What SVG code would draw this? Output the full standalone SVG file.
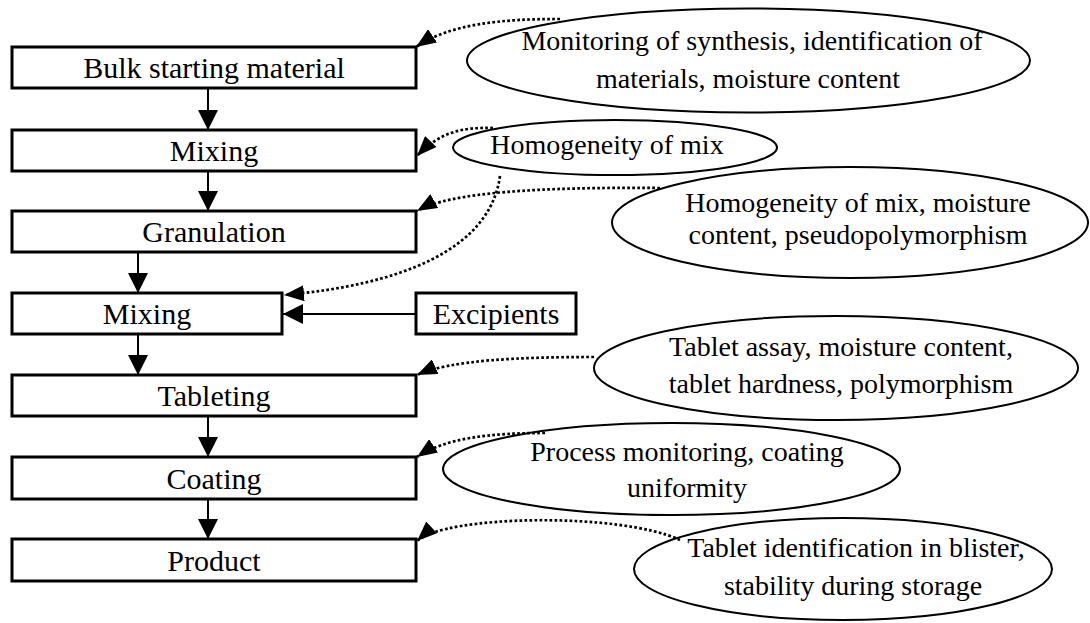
<svg xmlns="http://www.w3.org/2000/svg" width="1090" height="623" viewBox="0 0 1090 623">
<defs>
<style>
.box { fill: #fff; stroke: #000; stroke-width: 3; }
.ell { fill: #fff; stroke: #000; stroke-width: 2; }
.bt { font-family: "Liberation Serif", "Times New Roman", serif; font-size: 30px; text-anchor: middle; fill: #000; }
.et { font-family: "Liberation Serif", "Times New Roman", serif; font-size: 28px; text-anchor: middle; fill: #000; }
.flow { fill: none; stroke: #000; stroke-width: 2; marker-end: url(#arrowSolid); }
.dot { fill: none; stroke: #000; stroke-width: 2.7; stroke-dasharray: 2.7 2.3; marker-end: url(#arrowDot); }
</style>
<marker id="arrowSolid" markerUnits="userSpaceOnUse" markerWidth="20" markerHeight="20" viewBox="0 0 20 20" refX="20" refY="10" orient="auto"><path d="M0,0 L20,10 L0,20 Z" fill="#000"/></marker>
<marker id="arrowDot" markerUnits="userSpaceOnUse" markerWidth="20" markerHeight="16" viewBox="0 0 20 16" refX="20" refY="8" orient="auto"><path d="M0,0 L20,8 L0,16 Z" fill="#000"/></marker>
</defs>
<rect width="1090" height="623" fill="#fff"/>

<g id="bulk"><rect class="box" x="12" y="47" width="404" height="41"/><text class="bt" x="214" y="78">Bulk starting material</text></g>
<g id="mixing1"><rect class="box" x="12" y="130" width="404" height="41"/><text class="bt" x="214" y="161">Mixing</text></g>
<g id="granulation"><rect class="box" x="12" y="211" width="404" height="41"/><text class="bt" x="214" y="242">Granulation</text></g>
<g id="mixing2"><rect class="box" x="12" y="293" width="270" height="41"/><text class="bt" x="147" y="324">Mixing</text></g>
<g id="excipients"><rect class="box" x="416" y="293" width="160" height="41"/><text class="bt" x="496" y="324">Excipients</text></g>
<g id="tableting"><rect class="box" x="12" y="375" width="404" height="41"/><text class="bt" x="214" y="406">Tableting</text></g>
<g id="coating"><rect class="box" x="12" y="457" width="404" height="42"/><text class="bt" x="214" y="489">Coating</text></g>
<g id="product"><rect class="box" x="12" y="539" width="404" height="42"/><text class="bt" x="214" y="571">Product</text></g>

<g id="e1"><ellipse class="ell" cx="748.5" cy="60.5" rx="281.5" ry="52"/><text class="et" x="752" y="50">Monitoring of synthesis, identification of</text><text class="et" x="748" y="88">materials, moisture content</text></g>
<g id="e2"><ellipse class="ell" cx="615" cy="147.5" rx="162" ry="27.5"/><text class="et" x="607" y="154">Homogeneity of mix</text></g>
<g id="e3"><ellipse class="ell" cx="850" cy="222.5" rx="238" ry="55.5"/><text class="et" x="858" y="212">Homogeneity of mix, moisture</text><text class="et" x="858" y="244">content, pseudopolymorphism</text></g>
<g id="e4"><ellipse class="ell" cx="836" cy="368" rx="242" ry="52"/><text class="et" x="841" y="356">Tablet assay, moisture content,</text><text class="et" x="841" y="393">tablet hardness, polymorphism</text></g>
<g id="e5"><ellipse class="ell" cx="671.5" cy="469" rx="228.5" ry="46"/><text class="et" x="687" y="461">Process monitoring, coating</text><text class="et" x="687" y="497">uniformity</text></g>
<g id="e6"><ellipse class="ell" cx="843" cy="569" rx="209" ry="51"/><text class="et" x="856" y="557">Tablet identification in blister,</text><text class="et" x="853" y="595">stability during storage</text></g>

<g id="connectors">
<path class="flow" d="M208,88 L208,130"/>
<path class="flow" d="M208,171 L208,211"/>
<path class="flow" d="M138,252 L138,293"/>
<path class="flow" d="M138,334 L138,375"/>
<path class="flow" d="M208,416 L208,457"/>
<path class="flow" d="M208,499 L208,539"/>
<path class="flow" d="M416,314 L283,314"/>
<path class="dot" d="M560,19 C500,19 450,24 416,47"/>
<path class="dot" d="M493,128 C462,127 440,132 417,156"/>
<path class="dot" d="M660,188 C540,187 450,192 417,211"/>
<path class="dot" d="M500,176 C490,250 400,285 284,295"/>
<path class="dot" d="M594,357 C520,357 450,360 417,375"/>
<path class="dot" d="M545,433 C490,433 445,438 417,457"/>
<path class="dot" d="M680,540 C620,512 445,515 417,541"/>
</g>
</svg>
